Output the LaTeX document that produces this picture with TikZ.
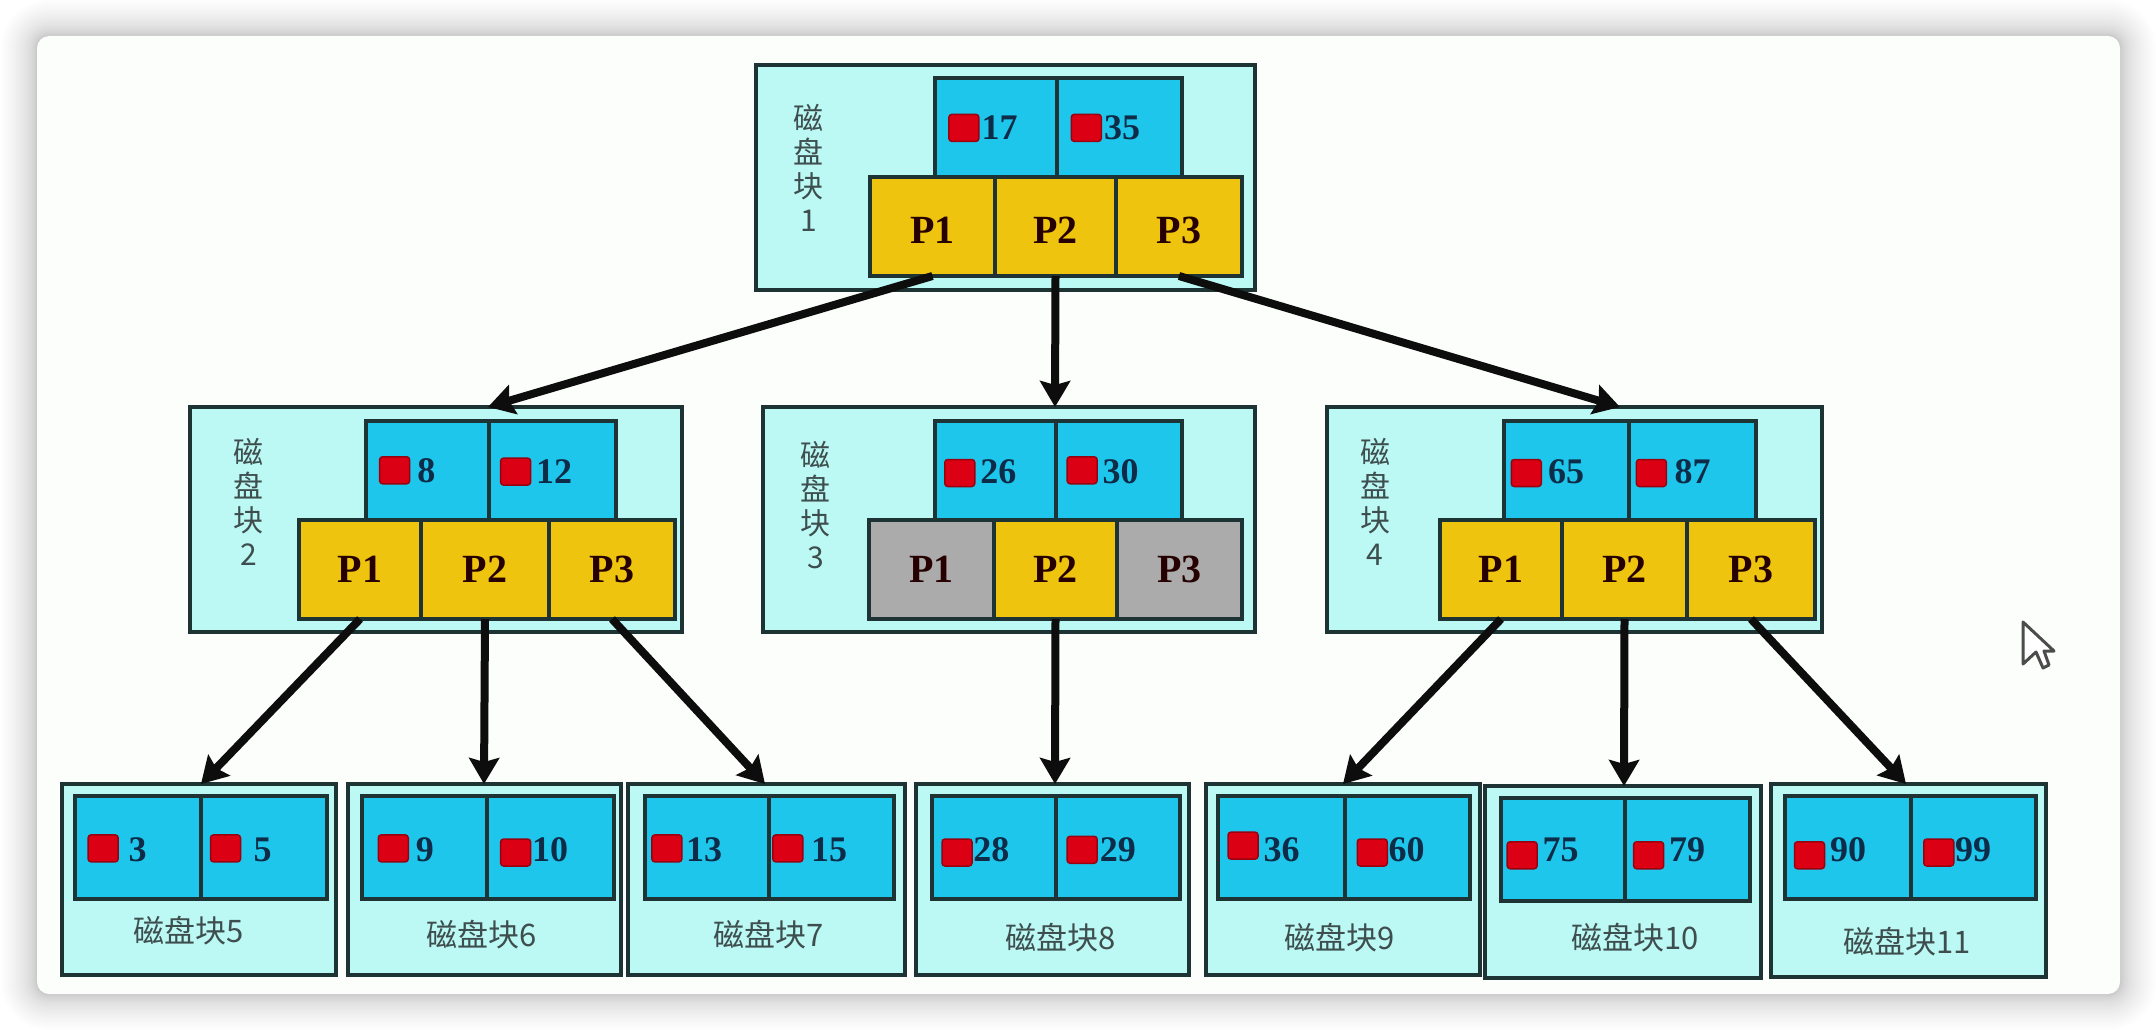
\documentclass[tikz,border=0pt]{standalone}
\usepackage{fontspec}
\setmainfont{Liberation Serif}
\newfontfamily\cjk{Noto Sans CJK SC}
\usetikzlibrary{arrows.meta}
\definecolor{cardc}{HTML}{FBFEFA}
\definecolor{outerc}{HTML}{BCF9F4}
\definecolor{bluec}{HTML}{1EC6EC}
\definecolor{yellowc}{HTML}{EEC40F}
\definecolor{greyc}{HTML}{ABABAB}
\definecolor{redc}{HTML}{DC0014}
\definecolor{linec}{HTML}{1E3434}
\definecolor{labelc}{HTML}{3E4E4E}
\definecolor{numc}{HTML}{0E2C48}
\tikzset{
  x=1pt,y=-1pt,
  box/.style={draw=linec,line width=3.6pt,inner sep=0pt,outer sep=0pt},
  blockbox/.style={box,fill=outerc},
  keycell/.style={box,fill=bluec},
  ptrcell/.style={box,fill=yellowc,font=\fontsize{40}{40}\selectfont\bfseries,text=black!85!red},
  deadcell/.style={box,fill=greyc,font=\fontsize{40}{40}\selectfont\bfseries,text=black!85!red},
  keynum/.style={inner sep=0pt,font=\fontsize{36}{36}\selectfont\bfseries,text=numc},
  redmark/.style={fill=redc,draw=redc!70!black,line width=1.5pt,rounded corners=3pt,minimum width=30pt,minimum height=27pt,inner sep=0pt},
  vlabel/.style={inner sep=0pt,align=center,text=labelc,font=\cjk\fontsize{30}{34}\selectfont},
  hlabel/.style={inner sep=0pt,text=labelc,font=\cjk\fontsize{31}{34}\selectfont},
  link/.style={line width=8pt,draw=black!95,-{Stealth[length=26pt,width=30pt,inset=4pt]}}
}
% name, style, x0, y0, x1, y1, text
\newcommand{\bnode}[7]{\node[#2,minimum width={(#5)-(#3)},minimum height={(#6)-(#4)}] (#1) at ({((#3)+(#5))/2},{((#4)+(#6))/2}) {#7};}
% name, style, x, y in the 1568-wide scale, text
\newcommand{\mk}[5]{\node[#2] (#1) at ({(#3)*1.375},{(#4)*1.375}) {#5};}
\newcommand{\leafblock}[8]{% name, outer x0,x1,y0,y1, blue x0, div, x1
  \bnode{#1}{blockbox}{#2}{#4}{#3}{#5}{}
  \bnode{#1k}{keycell}{#6}{#4+12}{#7}{#4+115}{}
  \bnode{#1l}{keycell}{#7}{#4+12}{#8}{#4+115}{}}
\newcommand{\lowr}[1]{\raisebox{-4pt}[26pt][0pt]{#1}}
\begin{document}
\begin{tikzpicture}
\useasboundingbox (0,0) rectangle (2156,1030);
\fill[white] (0,0) rectangle (2156,1030);
% window shadow
\foreach \i in {1,...,30}{
  \pgfmathsetmacro{\off}{\i*\i/25}
  \fill[black,opacity=0.0085,rounded corners={(12+\off)*1pt}] ({37-\off},{36-\off}) rectangle ({2120+\off},{994+\off});
}
\fill[cardc,rounded corners=12pt] (37,36) rectangle (2120,994);

% block 1
\bnode{blocka}{blockbox}{756}{65}{1255}{290}{}
\bnode{ka1}{keycell}{935}{78}{1057}{177}{}
\bnode{ka2}{keycell}{1057}{78}{1182}{177}{}
\bnode{pa1}{ptrcell}{870}{177}{995}{276}{\lowr{P1}}
\bnode{pa2}{ptrcell}{995}{177}{1116}{276}{\lowr{P2}}
\bnode{pa3}{ptrcell}{1116}{177}{1242}{276}{\lowr{P3}}
\mk{labela}{vlabel}{588}{122}{磁\\盘\\块\\1}
\mk{na1}{keynum}{727}{93}{17}
\mk{na2}{keynum}{816}{93}{35}
\mk{ra1}{redmark}{701}{93}{}
\mk{ra2}{redmark}{790}{93}{}

% block 2
\bnode{blockb}{blockbox}{190}{407}{682}{632}{}
\bnode{kb1}{keycell}{366}{421}{489}{520}{}
\bnode{kb2}{keycell}{489}{421}{616}{520}{}
\bnode{pb1}{ptrcell}{299}{520}{421}{619}{P1}
\bnode{pb2}{ptrcell}{421}{520}{549}{619}{P2}
\bnode{pb3}{ptrcell}{549}{520}{675}{619}{P3}
\mk{labelb}{vlabel}{181}{365}{磁\\盘\\块\\2}
\mk{nb1}{keynum}{310}{342}{8}
\mk{nb2}{keynum}{403}{343}{12}
\mk{rb1}{redmark}{287}{342}{}
\mk{rb2}{redmark}{375}{343}{}

% block 3
\bnode{blockc}{blockbox}{763}{407}{1255}{632}{}
\bnode{kc1}{keycell}{935}{421}{1056}{520}{}
\bnode{kc2}{keycell}{1056}{421}{1182}{520}{}
\bnode{pc1}{deadcell}{869}{520}{994}{619}{P1}
\bnode{pc2}{ptrcell}{994}{520}{1117}{619}{P2}
\bnode{pc3}{deadcell}{1117}{520}{1242}{619}{P3}
\mk{labelc}{vlabel}{593}{367}{磁\\盘\\块\\3}
\mk{nc1}{keynum}{726}{343}{26}
\mk{nc2}{keynum}{815}{343}{30}
\mk{rc1}{redmark}{698}{344}{}
\mk{rc2}{redmark}{787}{342}{}

% block 4
\bnode{blockd}{blockbox}{1327}{407}{1822}{632}{}
\bnode{kd1}{keycell}{1504}{421}{1629}{520}{}
\bnode{kd2}{keycell}{1629}{421}{1756}{520}{}
\bnode{pd1}{ptrcell}{1440}{520}{1562}{619}{P1}
\bnode{pd2}{ptrcell}{1562}{520}{1687}{619}{P2}
\bnode{pd3}{ptrcell}{1687}{520}{1815}{619}{P3}
\mk{labeld}{vlabel}{1000}{365}{磁\\盘\\块\\4}
\mk{nd1}{keynum}{1139}{343}{65}
\mk{nd2}{keynum}{1231}{343}{87}
\mk{rd1}{redmark}{1110}{344}{}
\mk{rd2}{redmark}{1201}{344}{}

% leaves
\leafblock{le}{62}{336}{784}{975}{75}{201}{327}
\leafblock{lf}{348}{621}{784}{975}{362}{487}{614}
\leafblock{lg}{628}{905}{784}{975}{645}{769}{894}
\leafblock{lh}{916}{1189}{784}{975}{932}{1056}{1180}
\leafblock{li}{1206}{1480}{784}{975}{1218}{1345}{1470}
\leafblock{lj}{1485}{1761}{786}{978}{1501}{1625}{1750}
\leafblock{lk}{1771}{2046}{784}{977}{1785}{1911}{2036}

\mk{te}{hlabel}{137}{677}{磁盘块5}
\mk{tf}{hlabel}{350}{680}{磁盘块6}
\mk{tg}{hlabel}{559}{680}{磁盘块7}
\mk{th}{hlabel}{771}{682}{磁盘块8}
\mk{ti}{hlabel}{974}{682}{磁盘块9}
\mk{tj}{hlabel}{1189}{682}{磁盘块10}
\mk{tk}{hlabel}{1387}{685}{磁盘块11}

\mk{ne1}{keynum}{100}{618}{3}    \mk{ne2}{keynum}{191}{618}{5}
\mk{nf1}{keynum}{309}{618}{9}    \mk{nf2}{keynum}{400}{618}{10}
\mk{ng1}{keynum}{512}{618}{13}   \mk{ng2}{keynum}{603}{618}{15}
\mk{nh1}{keynum}{721}{618}{28}   \mk{nh2}{keynum}{813}{618}{29}
\mk{ni1}{keynum}{932}{618}{36}   \mk{ni2}{keynum}{1023}{618}{60}
\mk{nj1}{keynum}{1135}{618}{75}  \mk{nj2}{keynum}{1227}{618}{79}
\mk{nk1}{keynum}{1344}{618}{90}  \mk{nk2}{keynum}{1435}{618}{99}

\mk{re1}{redmark}{75}{617}{}     \mk{re2}{redmark}{164}{617}{}
\mk{rf1}{redmark}{286}{617}{}    \mk{rf2}{redmark}{375}{620}{}
\mk{rg1}{redmark}{485}{617}{}    \mk{rg2}{redmark}{573}{617}{}
\mk{rh1}{redmark}{696}{620}{}    \mk{rh2}{redmark}{787}{618}{}
\mk{ri1}{redmark}{904}{615}{}    \mk{ri2}{redmark}{998}{620}{}
\mk{rj1}{redmark}{1107}{622}{}   \mk{rj2}{redmark}{1199}{622}{}
\mk{rk1}{redmark}{1316}{622}{}   \mk{rk2}{redmark}{1410}{620}{}

% arrow targets
\coordinate (tb) at (488,407);
\coordinate (tc) at (1055,407);
\coordinate (td) at (1620,407);
\coordinate (te) at (201,784);
\coordinate (tf) at (484,784);
\coordinate (tg) at (765,784);
\coordinate (th) at (1055,784);
\coordinate (ti) at (1343,784);
\coordinate (tj) at (1624,786);
\coordinate (tk) at (1906,784);

\draw[link] (pa1.south) -- (tb);
\draw[link] (pa2.south) -- (tc);
\draw[link] (pa3.south) -- (td);
\draw[link] (pb1.south) -- (te);
\draw[link] (pb2.south) -- (tf);
\draw[link] (pb3.south) -- (tg);
\draw[link] (pc2.south) -- (th);
\draw[link] (pd1.south) -- (ti);
\draw[link] (pd2.south) -- (tj);
\draw[link] (pd3.south) -- (tk);

% mouse pointer
\draw[fill=white,draw=black!70,line width=3pt,line join=round]
  (2023,622) -- (2023,664) -- (2036,652) -- (2043,668) -- (2049,665) -- (2044,651) -- (2054,651) -- cycle;
\end{tikzpicture}
\end{document}
